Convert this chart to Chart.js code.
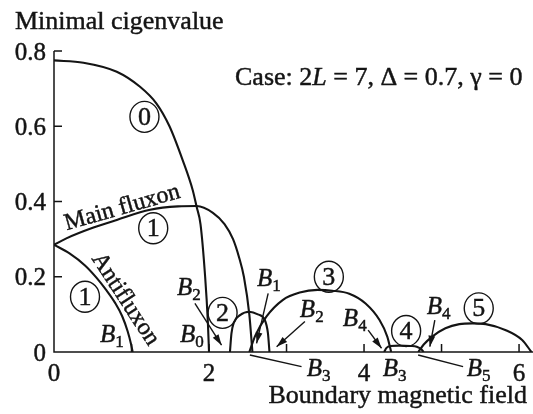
<!DOCTYPE html>
<html>
<head>
<meta charset="utf-8">
<script src="https://cdn.jsdelivr.net/npm/chart.js@4.4.1/dist/chart.umd.min.js"></script>
<style>
  html, body { margin: 0; padding: 0; background: #fff; }
  #wrap { width: 533px; height: 414px; position: relative; }
</style>
</head>
<body>
<div id="wrap"><canvas id="chart"></canvas></div>
<script>
const X_MAX = 6.18;
const Y_MAX = 0.8;
const X_TICKS = [0, 1, 2, 3, 4, 5, 6];
const X_LABELED = [0, 2, 4, 6];
const Y_TICKS = [0, 0.2, 0.4, 0.6, 0.8];

// branch 0
const mode0X = [0, 0.38, 0.81, 1.11, 1.32, 1.49, 1.66, 1.79, 1.84, 1.89, 1.95, 1.985, 2.0];
const mode0Y = [0.775, 0.769, 0.745, 0.705, 0.661, 0.6, 0.51, 0.43, 0.386, 0.34, 0.2, 0.08, 0];

// branch 1, main fluxon
const mainX = [0, 0.16, 0.5, 0.81, 1.24, 1.6, 1.84, 2.05, 2.2, 2.31, 2.39, 2.45, 2.52, 2.56];
const mainY = [0.285, 0.302, 0.33, 0.351, 0.378, 0.387, 0.388, 0.37, 0.34, 0.3, 0.25, 0.2, 0.1, 0];

// branch 1, antifluxon
const antiX = [0, 0.2, 0.4, 0.55, 0.68, 0.79, 0.88, 0.95, 0.995, 1.015];
const antiY = [0.285, 0.262, 0.23, 0.197, 0.163, 0.13, 0.095, 0.055, 0.02, 0];

const mode2X = [2.27, 2.29, 2.32, 2.4, 2.52, 2.63, 2.72, 2.76, 2.78];
const mode2Y = [0, 0.05, 0.078, 0.098, 0.107, 0.1, 0.085, 0.05, 0];

const mode3X = [2.52, 2.6, 2.74, 2.95, 3.17, 3.4, 3.59, 3.81, 4.02, 4.2, 4.3, 4.35];
const mode3Y = [0, 0.045, 0.094, 0.138, 0.158, 0.165, 0.163, 0.155, 0.129, 0.085, 0.041, 0];

const mode4X = [4.26, 4.29, 4.34, 4.45, 4.6, 4.68, 4.74, 4.77];
const mode4Y = [0, 0.011, 0.016, 0.017, 0.016, 0.014, 0.007, 0];

const mode5X = [4.7, 4.77, 4.88, 5.05, 5.23, 5.4, 5.57, 5.83, 6.04, 6.16];
const mode5Y = [0, 0.02, 0.041, 0.063, 0.074, 0.076, 0.074, 0.058, 0.032, 0];

// circled branch numbers, placed in axis units
const circleText = ["0", "1", "1", "2", "3", "4", "5"];
const circleX = [1.167, 1.28, 0.4, 2.175, 3.546, 4.543, 5.48];
const circleY = [0.625, 0.329, 0.147, 0.104, 0.2, 0.056, 0.116];

// bifurcation labels B_n: left edge of "B" and its baseline
const bSub = ["1", "2", "0", "1", "2", "3", "4", "3", "4", "5"];
const bX = [0.593, 1.586, 1.625, 2.618, 3.172, 3.262, 3.727, 4.242, 4.81, 5.326];
const bY = [0.027, 0.151, 0.027, 0.175, 0.094, -0.064, 0.069, -0.064, 0.1, -0.064];

// pointers from labels to the curves: [x1, y1, x2, y2, arrowhead]
const pointers = [
  [1.818, 0.129, 2.162, 0.018, true],
  [2.763, 0.156, 2.614, 0.023, true],
  [3.237, 0.081, 2.872, 0.014, true],
  [4.053, 0.058, 4.226, 0.01, true],
  [4.913, 0.085, 4.849, 0.014, true],
  [2.527, -0.008, 3.194, -0.039, false],
  [4.698, -0.008, 5.278, -0.039, false]
];

const INK = "#141414";
const SERIF = "'Liberation Serif', 'Times New Roman', serif";
const TEXT_STROKE = 0.45;

const toPoints = (xs, ys) => xs.map((x, i) => ({ x, y: ys[i] }));

const curve = (xs, ys) => ({
  data: toPoints(xs, ys),
  borderColor: INK,
  borderWidth: 2.1,
  pointRadius: 0,
  fill: false,
  cubicInterpolationMode: "monotone"
});

const fmtTick = (v) => String(Math.round(v * 10) / 10);

// filled text with a hairline outline, closer to the printed weight
const inkText = (ctx, t, x, y) => {
  ctx.lineWidth = TEXT_STROKE;
  ctx.strokeText(t, x, y);
  ctx.fillText(t, x, y);
};

const drawArrow = (ctx, x1, y1, x2, y2, head) => {
  ctx.beginPath();
  ctx.moveTo(x1, y1);
  ctx.lineTo(x2, y2);
  ctx.lineWidth = 1.4;
  ctx.stroke();
  if (!head) return;
  const a = Math.atan2(y2 - y1, x2 - x1);
  const len = 11, half = 3.4;
  ctx.beginPath();
  ctx.moveTo(x2, y2);
  ctx.lineTo(x2 - len * Math.cos(a) + half * Math.sin(a), y2 - len * Math.sin(a) - half * Math.cos(a));
  ctx.lineTo(x2 - len * Math.cos(a) - half * Math.sin(a), y2 - len * Math.sin(a) + half * Math.cos(a));
  ctx.closePath();
  ctx.fill();
};

const decorations = {
  id: "decorations",
  afterDatasetsDraw(chart) {
    const { ctx, chartArea, scales } = chart;
    const sx = (v) => scales.x.getPixelForValue(v);
    const sy = (v) => scales.y.getPixelForValue(v);
    const left = sx(0), bottom = sy(0);

    ctx.save();
    ctx.strokeStyle = INK;
    ctx.fillStyle = INK;

    // axes with inward ticks
    ctx.lineWidth = 1.5;
    ctx.beginPath();
    ctx.moveTo(left, sy(Y_MAX));
    ctx.lineTo(left, bottom);
    ctx.lineTo(chartArea.right, bottom);
    Y_TICKS.forEach((v) => {
      if (v === 0) return;
      ctx.moveTo(left, sy(v));
      ctx.lineTo(left + 8, sy(v));
    });
    X_TICKS.forEach((v) => {
      if (v === 0) return;
      ctx.moveTo(sx(v), bottom);
      ctx.lineTo(sx(v), bottom - 8);
    });
    ctx.stroke();

    // tick labels, from the scales' own tick lists
    ctx.font = `25px ${SERIF}`;
    ctx.textBaseline = "alphabetic";
    ctx.textAlign = "center";
    scales.x.ticks.forEach((t) => {
      if (!X_LABELED.includes(t.value)) return;
      inkText(ctx, fmtTick(t.value), sx(t.value), bottom + 28.5);
    });
    ctx.textAlign = "right";
    scales.y.ticks.forEach((t) => {
      inkText(ctx, fmtTick(t.value), left - 8, sy(t.value) + 8.5);
    });

    // axis titles and case note
    ctx.textAlign = "left";
    ctx.font = `26px ${SERIF}`;
    inkText(ctx, "Minimal cigenvalue", 15, 29);
    ctx.textAlign = "right";
    inkText(ctx, "Boundary magnetic field", 527, 403);

    ctx.textAlign = "left";
    let cx = 235;
    const parts = [["Case: 2", ""], ["L", "italic "], [" = 7, Δ = 0.7, γ = 0", ""]];
    parts.forEach(([t, style]) => {
      ctx.font = `${style}26px ${SERIF}`;
      inkText(ctx, t, cx, 85);
      cx += ctx.measureText(t).width;
    });

    // circled branch numbers
    ctx.textAlign = "center";
    ctx.textBaseline = "middle";
    ctx.font = `26px ${SERIF}`;
    circleText.forEach((t, i) => {
      const x = sx(circleX[i]), y = sy(circleY[i]);
      ctx.beginPath();
      ctx.ellipse(x, y, 14.5, 15.5, 0, 0, Math.PI * 2);
      ctx.lineWidth = 1.4;
      ctx.stroke();
      inkText(ctx, t, x, y + 1);
    });

    // B_n labels
    ctx.textAlign = "left";
    ctx.textBaseline = "alphabetic";
    bSub.forEach((s, i) => {
      const x = sx(bX[i]), y = sy(bY[i]);
      ctx.font = `italic 25px ${SERIF}`;
      inkText(ctx, "B", x, y);
      const w = ctx.measureText("B").width;
      ctx.font = `17px ${SERIF}`;
      inkText(ctx, s, x + w, y + 5);
    });

    pointers.forEach(([x1, y1, x2, y2, head]) => {
      drawArrow(ctx, sx(x1), sy(y1), sx(x2), sy(y2), head);
    });

    // labels running along the branch-1 curves
    ctx.font = `24px ${SERIF}`;
    ctx.textAlign = "center";
    ctx.textBaseline = "alphabetic";
    ctx.save();
    ctx.translate(sx(0.903), sy(0.367));
    ctx.rotate(-16 * Math.PI / 180);
    inkText(ctx, "Main fluxon", 0, 0);
    ctx.restore();

    ctx.textBaseline = "middle";
    ctx.save();
    ctx.translate(sx(0.92), sy(0.14));
    ctx.rotate(57 * Math.PI / 180);
    inkText(ctx, "Antifluxon", 0, 0);
    ctx.restore();

    ctx.restore();
  }
};

new Chart(document.getElementById("chart"), {
  type: "line",
  data: {
    datasets: [
      curve(mode0X, mode0Y),
      curve(mainX, mainY),
      curve(antiX, antiY),
      curve(mode2X, mode2Y),
      curve(mode3X, mode3Y),
      curve(mode4X, mode4Y),
      curve(mode5X, mode5Y)
    ]
  },
  options: {
    responsive: true,
    maintainAspectRatio: false,
    devicePixelRatio: 1,
    animation: false,
    layout: { padding: { top: 51, right: 0, left: 0, bottom: 0 } },
    plugins: { legend: { display: false }, tooltip: { enabled: false } },
    scales: {
      x: {
        type: "linear",
        min: 0,
        max: X_MAX,
        grid: { display: false, drawTicks: false },
        border: { display: false },
        afterFit: (scale) => { scale.height = 62; },
        ticks: { display: false, stepSize: 1, includeBounds: false, autoSkip: false }
      },
      y: {
        type: "linear",
        min: 0,
        max: Y_MAX,
        grid: { display: false, drawTicks: false },
        border: { display: false },
        afterFit: (scale) => { scale.width = 54; },
        ticks: { display: false, stepSize: 0.2 }
      }
    }
  },
  plugins: [decorations]
});
</script>
</body>
</html>
